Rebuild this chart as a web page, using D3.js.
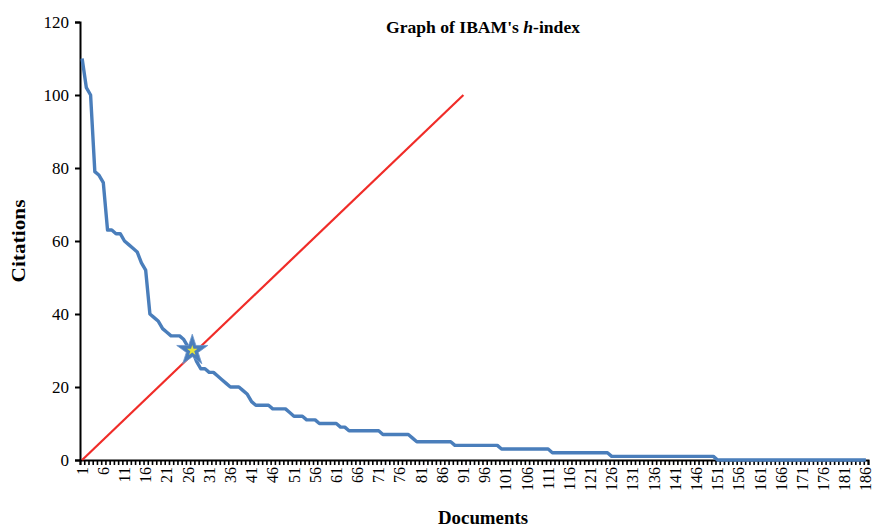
<!DOCTYPE html>
<html>
<head>
<meta charset="utf-8">
<script src="https://cdn.jsdelivr.net/npm/d3@7"></script>
<style>
  body { margin: 0; background: #fff; }
  text { font-family: "Liberation Serif", "DejaVu Serif", serif; fill: #000; }
</style>
</head>
<body>
<svg width="875" height="527"></svg>
<script>
// citations per document, ranked
const citations = [
  110, 102, 100, 79, 78, 76, 63, 63, 62, 62, 60, 59, 58, 57, 54, 52,
  40, 39, 38, 36, 35, 34, 34, 34, 33, 31, 30,
  27, 25, 25, 24, 24, 23, 22, 21, 20, 20, 20, 19, 18,
  16, 15, 15, 15, 15, 14, 14, 14, 14, 13,
  12, 12, 12, 11, 11, 11, 10, 10, 10, 10, 10, 9, 9,
  8, 8, 8, 8, 8, 8, 8, 8,
  7, 7, 7, 7, 7, 7, 7,
  6,
  5, 5, 5, 5, 5, 5, 5, 5, 5,
  4, 4, 4, 4, 4, 4, 4, 4, 4, 4, 4,
  3, 3, 3, 3, 3, 3, 3, 3, 3, 3, 3, 3,
  2, 2, 2, 2, 2, 2, 2, 2, 2, 2, 2, 2, 2, 2,
  1, 1, 1, 1, 1, 1, 1, 1, 1, 1, 1, 1, 1, 1, 1, 1, 1, 1, 1, 1, 1, 1, 1, 1, 1,
  0, 0, 0, 0, 0, 0, 0, 0, 0, 0, 0, 0, 0, 0, 0, 0, 0, 0,
  0, 0, 0, 0, 0, 0, 0, 0, 0, 0, 0, 0, 0, 0, 0, 0, 0, 0
];
const documents = citations.map((c, i) => i + 1);
// h = x reference line
const refDocs = [1, 91];
const refValues = [0, 100];
// h-index point
const hDoc = 27;
const hValue = 30;
const yTicks = [0, 20, 40, 60, 80, 100, 120];
const xLabels = documents.filter(d => (d - 1) % 5 === 0);

const plotLeft = 80, plotRight = 868, plotTop = 22, plotBottom = 460;
const svg = d3.select("svg");

var x = d3.scaleBand()
    .domain(documents)
    .range([plotLeft, plotRight]);
var cx = d => x(d) + x.bandwidth() / 2;
var xEdge = d3.scaleLinear()
    .domain([0, documents.length])
    .range([plotLeft, plotRight]);
var y = d3.scaleLinear()
    .domain([0, 120])
    .range([plotBottom, plotTop]);

// x tick marks at category boundaries
svg.append("g")
    .attr("transform", "translate(0," + plotBottom + ")")
    .call(d3.axisBottom(xEdge)
        .tickValues(d3.range(0, documents.length + 1))
        .tickSize(5)
        .tickFormat(""))
    .call(g => g.select(".domain").attr("stroke-width", 2))
    .call(g => g.selectAll(".tick line").attr("stroke-width", 1.6));

// x labels
svg.append("g")
    .selectAll("text")
    .data(xLabels)
    .enter()
    .append("text")
    .attr("transform", d => "translate(" + cx(d) + "," + 467 + ") rotate(-90)")
    .attr("text-anchor", "end")
    .attr("dy", "0.35em")
    .style("font-size", "16px")
    .text(d => d);

// y axis
svg.append("g")
    .attr("transform", "translate(" + plotLeft + ",0)")
    .call(d3.axisLeft(y)
        .tickValues(yTicks)
        .tickSize(5)
        .tickPadding(6))
    .call(g => g.select(".domain").attr("stroke-width", 2))
    .call(g => g.selectAll(".tick line").attr("stroke-width", 2))
    .call(g => g.selectAll(".tick text")
        .style("font-family", "Liberation Serif, serif")
        .style("font-size", "17px"));

// reference line
svg.append("path")
    .datum(refDocs.map((d, i) => [d, refValues[i]]))
    .attr("fill", "none")
    .attr("stroke", "#f02c28")
    .attr("stroke-width", 2.2)
    .attr("d", d3.line().x(d => cx(d[0])).y(d => y(d[1])));

// citations line
svg.append("path")
    .datum(citations)
    .attr("fill", "none")
    .attr("stroke", "#4a7ebb")
    .attr("stroke-width", 3.4)
    .attr("stroke-linejoin", "round")
    .attr("d", d3.line().x((d, i) => cx(documents[i])).y(d => y(d)));

// h-index star
svg.append("path")
    .attr("transform", "translate(" + cx(hDoc) + "," + y(hValue) + ")")
    .attr("d", d3.symbol().type(d3.symbolStar).size(300)())
    .attr("fill", "#4a7ebb")
    .attr("stroke", "#6d97cc")
    .attr("stroke-width", 0.8);
svg.append("path")
    .attr("transform", "translate(" + cx(hDoc) + "," + y(hValue) + ")")
    .attr("d", d3.symbol().type(d3.symbolStar).size(34)())
    .attr("fill", "#e6e63a");

// titles
svg.append("text")
    .attr("x", 483).attr("y", 33)
    .attr("text-anchor", "middle")
    .attr("textLength", 194)
    .attr("lengthAdjust", "spacingAndGlyphs")
    .style("font-size", "17px")
    .style("font-weight", "bold")
    .html("Graph of IBAM's <tspan font-style='italic'>h</tspan>-index");

svg.append("text")
    .attr("x", 483).attr("y", 524)
    .attr("text-anchor", "middle")
    .attr("textLength", 90)
    .attr("lengthAdjust", "spacingAndGlyphs")
    .style("font-size", "18px")
    .style("font-weight", "bold")
    .text("Documents");

svg.append("text")
    .attr("transform", "translate(25,241) rotate(-90)")
    .attr("text-anchor", "middle")
    .attr("textLength", 83)
    .attr("lengthAdjust", "spacingAndGlyphs")
    .style("font-size", "18px")
    .style("font-weight", "bold")
    .text("Citations");
</script>
</body>
</html>
